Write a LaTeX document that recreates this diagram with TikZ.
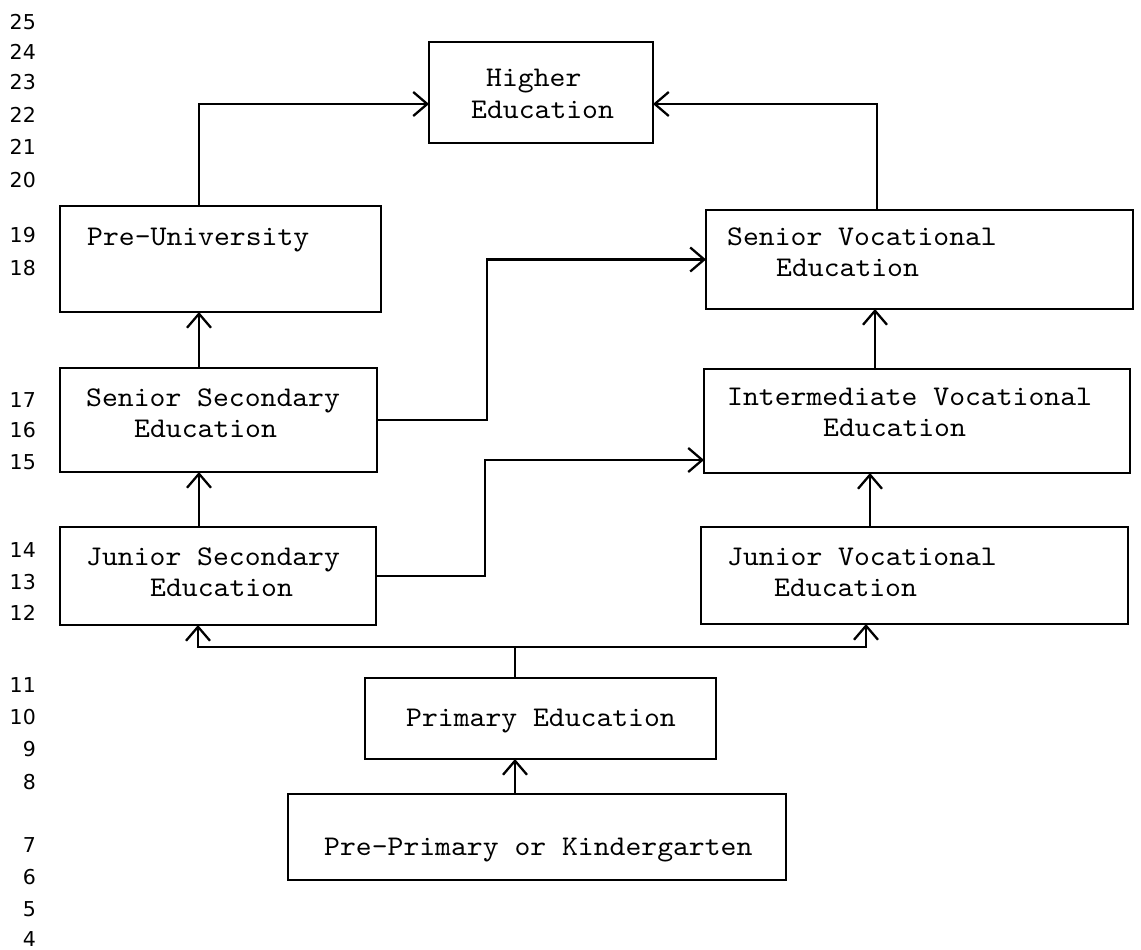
\documentclass[tikz,border=0pt]{standalone}
\usepackage{fontspec}
\usetikzlibrary{arrows.meta}
\newfontfamily\agefont{DejaVu Sans}
\newfontfamily\typew[FakeStretch=1.06]{lmmono10-regular.otf}

% a box given by its top-left and bottom-right corners (pixel-like units, y downwards)
\newcommand\edubox[5]{%
  \node[stagebox, anchor=north west,
        minimum width={(#4-#2)*1pt}, minimum height={(#5-#3)*1pt}] (#1) at (#2,#3) {};}
% one line of box text, placed by its left end and baseline
\newcommand\boxline[4]{\node[boxtext] (#1) at (#2,#3+8) {#4};}
% an age mark in the left column
\newcommand\agemark[2]{\node[agetext] (age#1) at (36,#2+7.5) {#1};}

\begin{document}
\begin{tikzpicture}[x=1pt, y=-1pt,
  stagebox/.style={draw, line width=2.3pt, inner sep=0pt, outer sep=0pt},
  boxtext/.style={anchor=base west, inner sep=0pt,
    font=\typew\fontsize{28.5}{32}\selectfont},
  agetext/.style={anchor=base east, inner sep=0pt, font=\agefont\fontsize{20.5}{24}\selectfont},
  link/.style={line width=2.3pt},
  flow/.style={link, -{Straight Barb[length=14pt, width=24pt]}}]
\useasboundingbox (0,0) rectangle (1141,950);

% ---- stages ----
\edubox{he}{429}{42}{653}{143}
\edubox{pu}{60}{206}{381}{312}
\edubox{sv}{706}{210}{1133}{309}
\edubox{ss}{60}{368}{377}{472}
\edubox{iv}{704}{369}{1130}{473}
\edubox{js}{60}{527}{376}{625}
\edubox{jv}{701}{527}{1128}{624}
\edubox{pr}{365}{678}{716}{759}
\edubox{pp}{288}{794}{786}{880}

% ---- stage names ----
\boxline{he1}{486}{78}{Higher}
\boxline{he2}{471}{110}{Education}
\boxline{pu1}{87}{237}{Pre-University}
\boxline{ss1}{86}{398}{Senior Secondary}
\boxline{ss2}{134}{429}{Education}
\boxline{js1}{86}{557}{Junior Secondary}
\boxline{js2}{150}{588}{Education}
\boxline{sv1}{727}{237}{Senior Vocational}
\boxline{sv2}{776}{268}{Education}
\boxline{iv1}{727}{397}{Intermediate Vocational}
\boxline{iv2}{823}{428}{Education}
\boxline{jv1}{727}{557}{Junior Vocational}
\boxline{jv2}{774}{588}{Education}
\boxline{pr1}{406}{718}{Primary Education}
\boxline{pp1}{324}{847}{Pre-Primary or Kindergarten}

% ---- ages ----
\agemark{25}{22}
\agemark{24}{52}
\agemark{23}{82}
\agemark{22}{115}
\agemark{21}{147}
\agemark{20}{180}
\agemark{19}{235}
\agemark{18}{268}
\agemark{17}{400}
\agemark{16}{430}
\agemark{15}{462}
\agemark{14}{550}
\agemark{13}{582}
\agemark{12}{613}
\agemark{11}{685}
\agemark{10}{717}
\agemark{9}{749}
\agemark{8}{782}
\agemark{7}{845}
\agemark{6}{877}
\agemark{5}{909}
\agemark{4}{939}

% ---- routing columns and rows ----
\coordinate (colL) at (199,0);
\coordinate (colJS) at (198,0);
\coordinate (colM) at (515,0);
\coordinate (colJV) at (866,0);
\coordinate (colIV) at (870,0);
\coordinate (colSV) at (875,0);
\coordinate (colHE) at (877,0);
\coordinate (jogA) at (487,0);
\coordinate (jogB) at (485,0);
\coordinate (rowHE) at (0,104);
\coordinate (rowIV) at (0,460);
\coordinate (hub) at (515,647);

% ---- connectors ----
\draw[flow] (colL |- pu.north) |- (he.west |- rowHE);
\draw[flow] (colHE |- sv.north) |- (he.east |- rowHE);
\draw[flow] (colL |- ss.north) -- (colL |- pu.south);
\draw[flow] (colL |- js.north) -- (colL |- ss.south);
\draw[flow] (ss.east) -| (jogA |- sv.west) -- (sv.west);
\draw[flow] (js.east) -| (jogB |- rowIV) -- (iv.west |- rowIV);
\draw[flow] (colIV |- jv.north) -- (colIV |- iv.south);
\draw[flow] (colSV |- iv.north) -- (colSV |- sv.south);
\draw[link] (colM |- pr.north) -- (hub);
\draw[flow] (hub) -| (colJS |- js.south);
\draw[flow] (hub) -| (colJV |- jv.south);
\draw[flow] (colM |- pp.north) -- (colM |- pr.south);
\end{tikzpicture}
\end{document}
